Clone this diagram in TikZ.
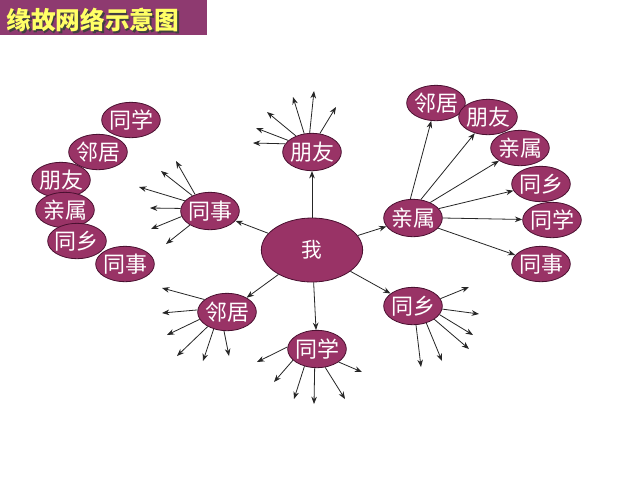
\documentclass[tikz,border=0pt]{standalone}
\usepackage{fontspec}
\newfontfamily\cjk{Noto Sans CJK SC}
\usetikzlibrary{shapes.geometric,arrows.meta}
\definecolor{bubfill}{HTML}{993366}
\definecolor{bubline}{HTML}{4A1030}
\definecolor{titlebg}{HTML}{8E3A70}
\definecolor{titletxt}{HTML}{FFFF66}
\begin{document}
\begin{tikzpicture}[x=0.75pt,y=-0.75pt,
  bub/.style={ellipse, fill=bubfill, draw=bubline, line width=0.6pt, text=white,
    inner xsep=-3pt, inner ysep=-1pt, font=\cjk\fontsize{16.5}{17}\selectfont,
    minimum width=44pt, minimum height=28pt},
  colbub/.style={bub, minimum height=26.5pt},
  arr/.style={draw=black!85, line width=0.6pt, -{Stealth[length=5.5pt,width=4.2pt]}},
  ttl/.style={font=\cjk\bfseries\fontsize{18.5}{19}\selectfont, inner sep=0pt}
]
\useasboundingbox (0,0) rectangle (640,480);
\fill[white] (0,0) rectangle (640,480);
% title
\node[fill=titlebg, minimum width=155.25pt, minimum height=26.25pt, anchor=north west, inner sep=0pt] (titlebar) at (0,0) {};
\node[ttl, text=black!75] (titleshadow) at (94.5,21.5) {缘故网络示意图};
\node[ttl, text=titletxt] (title) at (93,20) {缘故网络示意图};

% centre
\node[bub, minimum width=76pt, minimum height=48pt, font=\cjk\fontsize{15.5}{16}\selectfont] (wo) at (312,250) {我};
% middle ring
\node[bub] (py) at (312,152) {朋友};
\node[bub] (ts) at (210,211) {同事};
\node[bub] (qs) at (413,218) {亲属};
\node[bub] (lj) at (227,312) {邻居};
\node[bub] (tx) at (317,349) {同学};
\node[bub] (tsx) at (413,306) {同乡};

% left column
\node[colbub] (L1) at (131,120) {同学};
\node[colbub] (L2) at (98,152) {邻居};
\node[colbub] (L3) at (61,180) {朋友};
\node[colbub] (L4) at (65,210) {亲属};
\node[colbub] (L5) at (77,241) {同乡};
\node[colbub] (L6) at (125,264) {同事};

% right column
\node[colbub] (R1) at (436,103) {邻居};
\node[colbub] (R2) at (488,117) {朋友};
\node[colbub] (R3) at (520,148) {亲属};
\node[colbub] (R4) at (541,184) {同乡};
\node[colbub] (R5) at (552,220) {同学};
\node[colbub] (R6) at (541,264) {同事};

% from centre
\foreach \t in {py,ts,qs,lj,tx,tsx}{\draw[arr] (wo) -- (\t);}

% fans with free ends
\foreach \a/\x/\y [count=\i] in {163/253/143,154/256/128,135/267/112,113/293/97,97/314/91,67/336/107}
  {\coordinate (pyE\i) at (\x,\y); \draw[arr] (py.\a) -- (pyE\i);}
\foreach \a/\x/\y [count=\i] in {132/176/161,139/161/171,158/139/187,175/150/208,191/151/229,215/166/244}
  {\coordinate (tsE\i) at (\x,\y); \draw[arr] (ts.\a) -- (tsE\i);}
\foreach \a/\x/\y [count=\i] in {151/162/288,176/162/313,195/167/335,217/177/356,232/203/361,261/229/356}
  {\coordinate (ljE\i) at (\x,\y); \draw[arr] (lj.\a) -- (ljE\i);}
\foreach \a/\x/\y [count=\i] in {176/257/362,205/274/382,234/294/399,263/314/404,294/345/399,329/362/372}
  {\coordinate (txE\i) at (\x,\y); \draw[arr] (tx.\a) -- (txE\i);}
\foreach \a/\x/\y [count=\i] in {15/469/287,-6/479/314,-18/473/335,-32/469/349,-52/442/361,-81/421/367}
  {\coordinate (tsxE\i) at (\x,\y); \draw[arr] (tsx.\a) -- (tsxE\i);}

% 亲属 to right column
\foreach \a/\t in {98/R1,67/R2,42/R3,20/R4,0/R5,-22/R6}
  {\draw[arr] (qs.\a) -- (\t);}
\end{tikzpicture}
\end{document}
